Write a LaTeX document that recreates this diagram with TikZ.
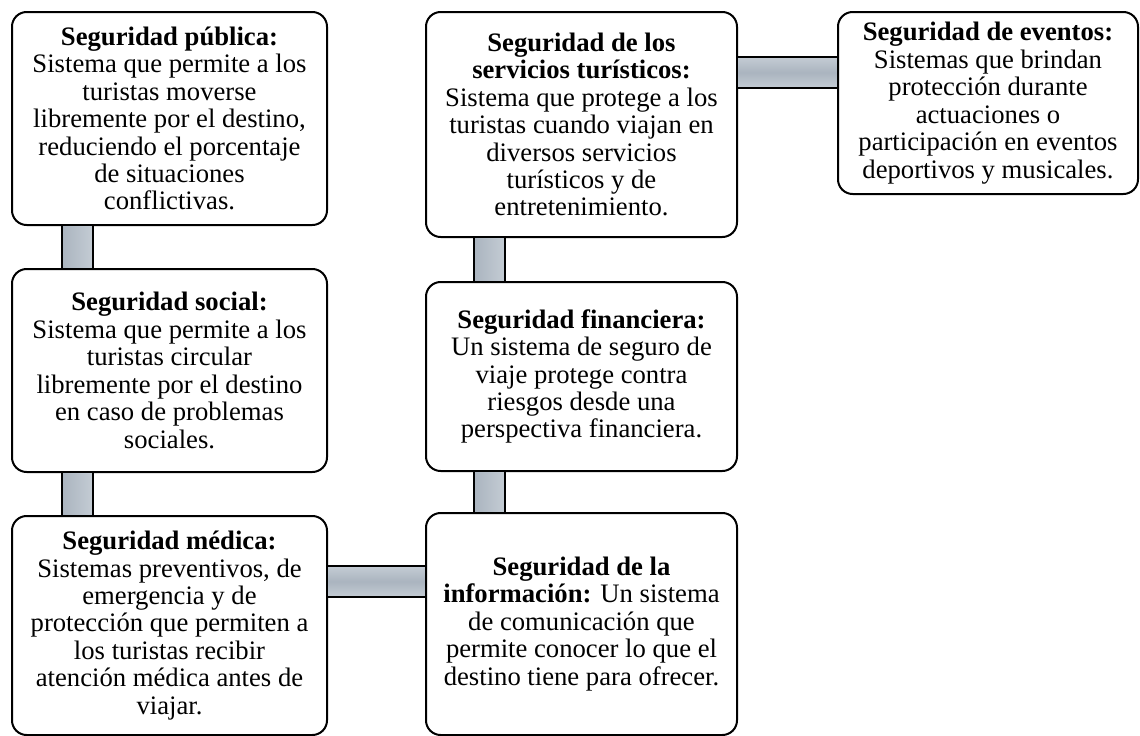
\documentclass[tikz,border=0pt]{standalone}
\usepackage{fontspec}
\setmainfont{Liberation Serif}
\usetikzlibrary{calc}

\definecolor{barmid}{RGB}{170,180,191}
\definecolor{barlight}{RGB}{196,204,212}

\tikzset{
  box/.style={draw, line width=1.5pt, rounded corners=11pt, fill=white,
              inner sep=0pt, outer sep=0pt, align=center,
              font=\fontsize{20}{20.6}\selectfont},
  vbar/.style={draw, line width=1.5pt, left color=barmid, right color=barlight},
  hbar/.style={draw, line width=1.5pt, top color=barlight, bottom color=barlight, middle color=barmid}
}

\begin{document}
\begin{tikzpicture}[x=0.75pt, y=-0.75pt]
  \useasboundingbox (0,0) rectangle (1140,736);

  % left column
  \node[box, minimum width=236.25pt, minimum height=159.75pt] (pub) at (169.5,118.5)
    {\textbf{Seguridad pública:}\\Sistema que permite a los\\turistas moverse\\libremente por el destino,\\reduciendo el porcentaje\\de situaciones\\conflictivas.};
  \node[box, minimum width=236.25pt, minimum height=152.25pt] (soc) at (169.5,370.5)
    {\textbf{Seguridad social:}\\Sistema que permite a los\\turistas circular\\libremente por el destino\\en caso de problemas\\sociales.};
  \node[box, minimum width=236.25pt, minimum height=164.25pt] (med) at (169.5,625.5)
    {\textbf{Seguridad médica:}\\Sistemas preventivos, de\\emergencia y de\\protección que permiten a\\los turistas recibir\\atención médica antes de\\viajar.};

  % middle column
  \node[box, minimum width=233.25pt, minimum height=166.5pt] (inf) at (581.5,624)
    {\textbf{Seguridad de la}\\\textbf{información:} Un sistema\\de comunicación que\\permite conocer lo que el\\destino tiene para ofrecer.};
  \node[box, minimum width=233.25pt, minimum height=141.75pt] (fin) at (581.5,376.5)
    {\textbf{Seguridad financiera:}\\Un sistema de seguro de\\viaje protege contra\\riesgos desde una\\perspectiva financiera.};
  \node[box, minimum width=233.25pt, minimum height=168.75pt] (tur) at (581.5,124.5)
    {\textbf{Seguridad de los}\\\textbf{servicios turísticos:}\\Sistema que protege a los\\turistas cuando viajan en\\diversos servicios\\turísticos y de\\entretenimiento.};

  % right
  \node[box, minimum width=225pt, minimum height=136.5pt] (eve) at (988,103)
    {\textbf{Seguridad de eventos:}\\Sistemas que brindan\\protección durante\\actuaciones o\\participación en eventos\\deportivos y musicales.};

  % bars
  \foreach \up/\down/\dx in {pub/soc/50, soc/med/50, tur/fin/48, fin/inf/48}
    \draw[vbar] ($(\up.south west)+(\dx,0)$) rectangle ($(\down.north west)+(\dx+31,0)$);

  \draw[hbar] ($(med.north east)+(0,50)$) rectangle ($(inf.north west)+(0,84)$);
  \draw[hbar] ($(tur.north east)+(0,45)$) rectangle ($(eve.north west)+(0,76)$);

\end{tikzpicture}
\end{document}
